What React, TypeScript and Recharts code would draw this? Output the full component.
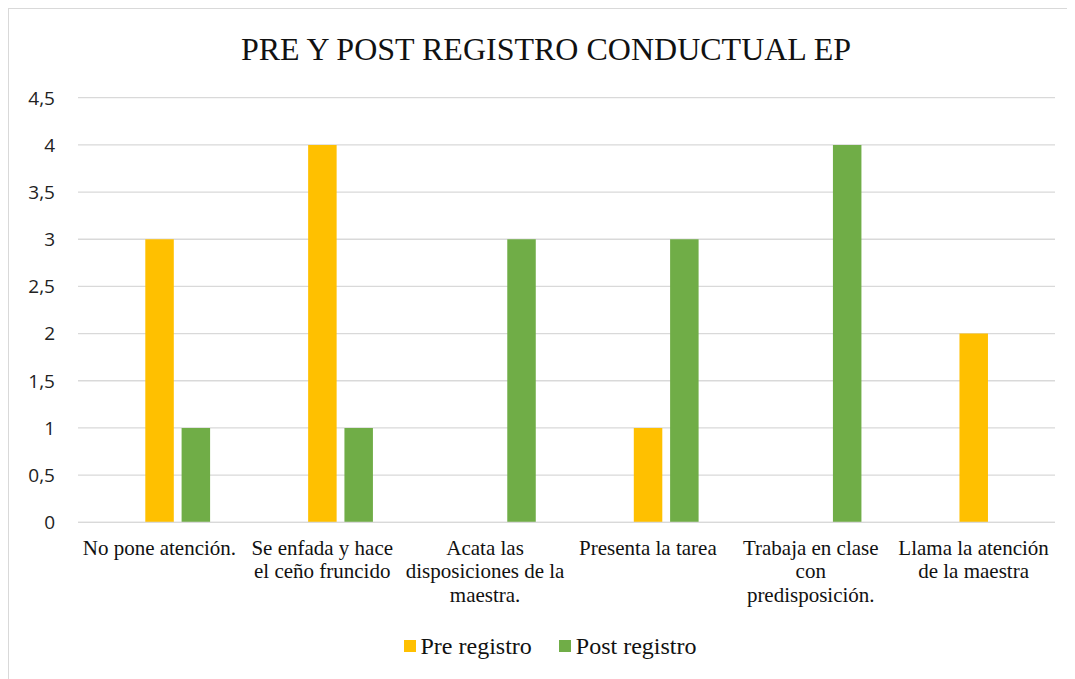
import React from 'react';
import { BarChart, Bar, XAxis, YAxis, CartesianGrid, Legend } from 'recharts';

// categories (line breaks as they wrap in the original)
const categories = [
  'No pone atención.',
  'Se enfada y hace\nel ceño fruncido',
  'Acata las\ndisposiciones de la\nmaestra.',
  'Presenta la tarea',
  'Trabaja en clase\ncon\npredisposición.',
  'Llama la atención\nde la maestra',
];
const preRegistro = [3, 4, 0, 1, 0, 2];
const postRegistro = [1, 1, 3, 3, 4, 0];
// empty first series slot, as in the source spreadsheet
const blankSeries = [null, null, null, null, null, null];
const yTicks = [0, 0.5, 1, 1.5, 2, 2.5, 3, 3.5, 4, 4.5];
const legendOrder = ['pre', 'post'];

const data = categories.map((name, i) => ({
  name,
  blank: blankSeries[i],
  pre: preRegistro[i],
  post: postRegistro[i],
}));

const SERIF = '"Liberation Serif", "Times New Roman", serif';
const SANS = '"Open Sans", "Liberation Sans", sans-serif';

const XTick = ({ x, y, payload }: any) => {
  const lines = String(payload.value).split('\n');
  return (
    <text x={x} y={y} textAnchor="middle" fontFamily={SERIF} fontSize={21} fill="#111">
      {lines.map((l, i) => (
        <tspan key={i} x={x} dy={i === 0 ? 32.7 : 23.3}>
          {l}
        </tspan>
      ))}
    </text>
  );
};

const YTick = ({ x, y, payload }: any) => (
  <text x={x - 23} y={y} dy="0.36em" textAnchor="end" fontFamily={SANS} fontSize={19} fill="#222">
    {String(payload.value).replace('.', ',')}
  </text>
);

const renderLegend = ({ payload }: any) => {
  const items = legendOrder
    .map((k) => (payload || []).find((p: any) => p.dataKey === k))
    .filter(Boolean);
  return (
    <div
      style={{
        display: 'flex',
        justifyContent: 'center',
        alignItems: 'center',
        height: 30,
        paddingLeft: 8,
        fontFamily: SERIF,
        fontSize: 24,
        lineHeight: '30px',
        color: '#111',
      }}
    >
      {items.map((p: any, i: number) => (
        <div key={i} style={{ display: 'flex', alignItems: 'center', marginLeft: i === 0 ? 0 : 27 }}>
          <span style={{ width: 12, height: 12, background: p.color, marginRight: 5, display: 'inline-block' }} />
          <span style={{ fontFamily: SERIF, fontSize: 24 }}>{p.value}</span>
        </div>
      ))}
    </div>
  );
};

export default function App() {
  return (
    <div
      style={{
        position: 'relative',
        width: 1074,
        height: 680,
        border: '1px solid #d9d9d9',
        background: '#fff',
      }}
    >
      <div
        style={{
          position: 'absolute',
          top: 23.7,
          left: 0,
          width: '100%',
          textAlign: 'center',
          fontFamily: SERIF,
          fontSize: 32,
          lineHeight: '32px',
          color: '#111',
          zIndex: 1,
        }}
      >
        PRE Y POST REGISTRO CONDUCTUAL EP
      </div>
      <BarChart
        width={1074}
        height={680}
        data={data}
        margin={{ top: 88.7, right: 28, left: 9, bottom: 28.5 }}
        barSize={28.5}
        barGap={7.8}
      >
        <CartesianGrid vertical={false} stroke="#d9d9d9" strokeWidth={1.3} />
        <XAxis
          dataKey="name"
          interval={0}
          height={108.2}
          tickLine={false}
          tickSize={0}
          tickMargin={0}
          axisLine={{ stroke: '#d9d9d9', strokeWidth: 1.3 }}
          tick={<XTick />}
        />
        <YAxis
          width={60}
          domain={[0, 4.5]}
          ticks={yTicks}
          axisLine={false}
          tickLine={false}
          tickSize={0}
          tickMargin={0}
          tick={<YTick />}
        />
        <Legend
          verticalAlign="bottom"
          height={30}
          wrapperStyle={{ left: 0, width: 1074 }}
          content={renderLegend}
        />
        <Bar dataKey="blank" name="" fill="#4472c4" legendType="none" isAnimationActive={false} />
        <Bar dataKey="pre" name="Pre registro" fill="#FFC000" isAnimationActive={false} />
        <Bar dataKey="post" name="Post registro" fill="#70AD47" isAnimationActive={false} />
      </BarChart>
    </div>
  );
}
